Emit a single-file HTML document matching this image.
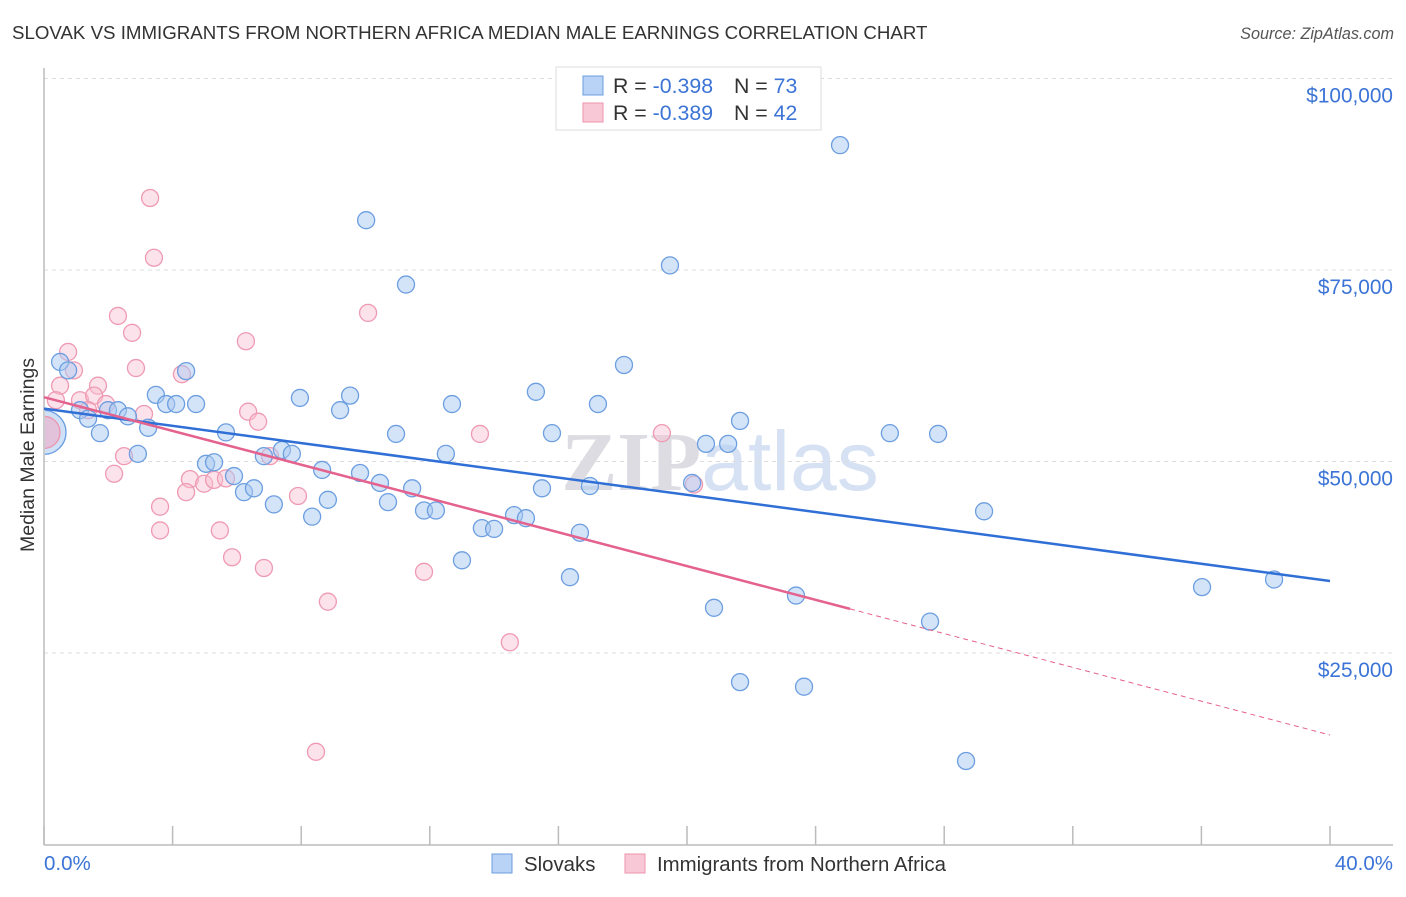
<!DOCTYPE html>
<html><head><meta charset="utf-8">
<style>
body{margin:0;background:#fff;font-family:"Liberation Sans",sans-serif;}
svg text{font-family:"Liberation Sans",sans-serif;}
</style></head>
<body>
<svg id="chart" width="1406" height="892" xmlns="http://www.w3.org/2000/svg">
<defs><clipPath id="plotclip"><rect x="45" y="60" width="1360" height="785"/></clipPath></defs>
<text x="12" y="39" font-size="18.7" fill="#333">SLOVAK VS IMMIGRANTS FROM NORTHERN AFRICA MEDIAN MALE EARNINGS CORRELATION CHART</text>
<text x="1394" y="39" font-size="16.2" fill="#555" text-anchor="end" font-style="italic">Source: ZipAtlas.com</text>
<text x="720" y="490" font-size="84" text-anchor="middle" fill="#e6e6ea"><tspan font-family="Liberation Serif" font-weight="bold" fill="#dcdce2">ZIP</tspan><tspan fill="#d6e2f4">atlas</tspan></text>
<g id="grid"></g>
<g id="axes"></g>
<g id="points" clip-path="url(#plotclip)"></g>
<g id="trends"></g>
<text transform="translate(34,455) rotate(-90)" font-size="19.5" fill="#333" text-anchor="middle">Median Male Earnings</text>
<g>
<rect x="556" y="67" width="265" height="63" fill="#fff" stroke="#ddd"/>
<rect x="583" y="76" width="20" height="19" fill="#b8d3f5" stroke="#6c9ee0"/>
<text x="613" y="93" font-size="21.3" fill="#333">R = <tspan fill="#3b74d6">-0.398</tspan></text>
<text x="734" y="93" font-size="21.3" fill="#333">N = <tspan fill="#3b74d6">73</tspan></text>
<rect x="583" y="103" width="20" height="19" fill="#f9c8d6" stroke="#ee93ad"/>
<text x="613" y="120" font-size="21.3" fill="#333">R = <tspan fill="#3b74d6">-0.389</tspan></text>
<text x="734" y="120" font-size="21.3" fill="#333">N = <tspan fill="#3b74d6">42</tspan></text>
</g>
<g>
<rect x="492" y="854" width="20" height="19" fill="#b8d3f5" stroke="#6c9ee0"/>
<text x="524" y="871" font-size="20.4" fill="#333">Slovaks</text>
<rect x="625" y="854" width="20" height="19" fill="#f9c8d6" stroke="#ee93ad"/>
<text x="657" y="871" font-size="20.4" fill="#333">Immigrants from Northern Africa</text>
</g>
</svg>
<script>
const yTicks=[25000,50000,75000,100000];
const yTickLabels=["$25,000","$50,000","$75,000","$100,000"];
const xTicks=[0,4,8,12,16,20,24,28,32,36,40];
const blueX=[0.50,0.75,1.12,1.37,1.74,1.99,2.30,2.61,2.92,3.24,3.48,3.80,4.11,4.42,4.73,5.04,5.29,5.66,5.91,6.22,6.53,6.84,7.15,7.40,7.71,7.96,8.34,8.65,8.83,9.21,9.52,9.83,10.02,10.45,10.70,10.95,11.26,11.45,11.82,12.19,12.50,12.69,13.00,13.62,14.00,14.62,14.99,15.30,15.49,15.80,16.36,16.67,16.98,17.23,18.04,19.47,20.16,20.59,20.84,21.28,21.65,21.65,23.39,23.64,24.76,26.31,27.56,27.81,28.68,29.24,36.02,38.26];
const blueY=[63.0,61.9,56.7,55.6,53.7,56.7,56.7,55.9,51.0,54.4,58.7,57.5,57.5,61.8,57.5,49.7,49.9,53.8,48.1,46.0,46.5,50.7,44.4,51.5,51.0,58.3,42.8,48.9,45.0,56.7,58.6,48.5,81.5,47.2,44.7,53.6,73.1,46.5,43.6,43.6,51.0,57.5,37.1,41.3,41.2,43.0,42.6,59.1,46.5,53.7,34.9,40.7,46.8,57.5,62.6,75.6,47.2,52.3,30.9,52.3,55.3,21.2,32.5,20.6,91.3,53.7,29.1,53.6,10.9,43.5,33.6,34.6];
const pinkX=[3.30,3.42,2.30,2.74,6.28,10.08,0.75,0.93,0.50,1.68,2.86,4.29,0.37,1.12,1.56,1.93,3.11,6.35,6.66,2.18,2.49,7.03,4.54,4.98,5.29,5.66,3.61,4.42,3.61,5.47,5.85,6.84,7.90,8.83,11.82,13.56,14.49,19.22,20.22,8.46,1.37];
const pinkY=[84.4,76.6,69.0,66.8,65.7,69.4,64.3,61.9,59.9,59.9,62.2,61.4,58.0,58.0,58.6,57.5,56.2,56.5,55.2,48.4,50.7,50.7,47.7,47.1,47.6,47.8,44.1,46.0,41.0,41.0,37.5,36.1,45.5,31.7,35.6,53.6,26.4,53.7,47.0,12.1,56.7];
const bigPoint=[0.0,53.8];
const blueTrend=[56.9,34.4];
const pinkTrend=[58.4,14.3];
const pinkSolidEnd=25.07;

const NS="http://www.w3.org/2000/svg";
const X=p=>44+p*(1286/40);
const Y=v=>844.5-v/25000*191.5;
function mk(tag,attrs,parent){const e=document.createElementNS(NS,tag);for(const k in attrs)e.setAttribute(k,attrs[k]);parent.appendChild(e);return e;}
const grid=document.getElementById('grid'),axes=document.getElementById('axes'),trends=document.getElementById('trends'),pts=document.getElementById('points');
yTicks.forEach((t,i)=>{
  const l=mk('line',{x1:44,x2:1393,y1:Y(t),y2:Y(t),stroke:'#ddd','stroke-dasharray':'4,4'},grid);
  
  
  const tx=mk('text',{x:1393,y:Y(t)+24,'font-size':20.8,fill:'#3b74d6','text-anchor':'end'},grid);
  tx.textContent=yTickLabels[i];
  
  
});
const ya=mk('line',{x1:44,x2:44,y1:68,y2:845,stroke:'#bbb','stroke-width':1.5},axes);


const xa=mk('line',{x1:44,x2:1393,y1:845,y2:845,stroke:'#bbb','stroke-width':1.5},axes);


xTicks.forEach(t=>{
  const l=mk('line',{x1:X(t),x2:X(t),y1:826,y2:845,stroke:'#bbb','stroke-width':1.5},axes);
  
  
});
const xl0=mk('text',{x:44,y:870,'font-size':20.5,fill:'#3b74d6'},axes);xl0.textContent='0.0%';


const xl1=mk('text',{x:1393,y:870,'font-size':20.5,fill:'#3b74d6','text-anchor':'end'},axes);xl1.textContent='40.0%';



function dot(x,y,r,fill,stroke,name){
  const c=mk('circle',{cx:X(x),cy:Y(y*1000),r:r,fill:fill,stroke:stroke,'stroke-width':1.3},pts);
  
  
}
const bb=mk('circle',{cx:X(bigPoint[0]),cy:Y(bigPoint[1]*1000),r:22,fill:'rgba(160,195,240,0.5)',stroke:'#6c9ee0','stroke-width':1.3},pts);


const bp=mk('circle',{cx:X(bigPoint[0]),cy:Y(bigPoint[1]*1000),r:16,fill:'rgba(240,170,195,0.55)',stroke:'#ee93ad','stroke-width':1.3},pts);


pinkX.forEach((x,i)=>dot(x,pinkY[i],8.5,'rgba(248,190,208,0.45)','#ef9ab3','point-immigrants'));
blueX.forEach((x,i)=>dot(x,blueY[i],8.5,'rgba(170,202,242,0.5)','#6c9ee0','point-slovaks'));

const bt=mk('line',{x1:X(0),y1:Y(blueTrend[0]*1000),x2:X(40),y2:Y(blueTrend[1]*1000),stroke:'#2f6fd6','stroke-width':2.5},trends);


const pv=p=>pinkTrend[0]+(pinkTrend[1]-pinkTrend[0])*p/40;
const ps=mk('line',{x1:X(0),y1:Y(pinkTrend[0]*1000),x2:X(pinkSolidEnd),y2:Y(pv(pinkSolidEnd)*1000),stroke:'#e4628e','stroke-width':2.5},trends);


const pd=mk('line',{x1:X(pinkSolidEnd),y1:Y(pv(pinkSolidEnd)*1000),x2:X(40),y2:Y(pinkTrend[1]*1000),stroke:'#e4628e','stroke-width':1,'stroke-dasharray':'5,4'},trends);


</script>
</body></html>
